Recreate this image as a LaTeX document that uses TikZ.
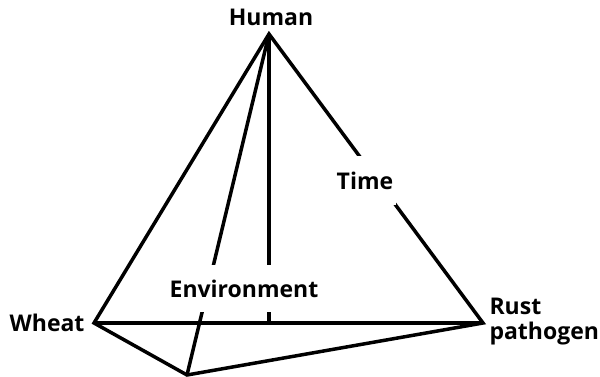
\documentclass[tikz,border=0pt]{standalone}
\usepackage{fontspec}
\setmainfont{Open Sans}
\usepackage{tikz}
\usetikzlibrary{positioning}

\begin{document}
\begin{tikzpicture}[
    x=1pt, y=-1pt,
    every node/.style={font=\fontsize{23}{25}\selectfont\bfseries, align=center},
    edge/.style={line width=3.5pt, line join=miter},
    gap/.style={fill=white, inner sep=0pt}
]
\useasboundingbox (0,0) rectangle (600,377);
% corners of the pyramid
\coordinate (top)   at (269,34);
\coordinate (wpt)   at (94,323);
\coordinate (rpt)   at (483,323);
\coordinate (front) at (187,375);
\coordinate (foot)  at (269,323);
% edges
\draw[edge] (wpt) -- (top) -- (rpt) -- (front) -- cycle;
\draw[edge] (wpt) -- (rpt);
\draw[edge] (top) -- (front);
\draw[edge] (top) -- (foot);
% labels
\node[gap, minimum width=152pt, minimum height=47pt] (env) at (244,288.5) {Environment};
\node[gap, minimum width=62pt, minimum height=49pt] (time) at (365,180.5) {Time};
\node (human) at (271,17) {Human};
\node[anchor=east] (wheat) at (88,323) {Wheat};
\node[anchor=west, align=left] (rust) at (486,322) {Rust\\pathogen};
\end{tikzpicture}
\end{document}
